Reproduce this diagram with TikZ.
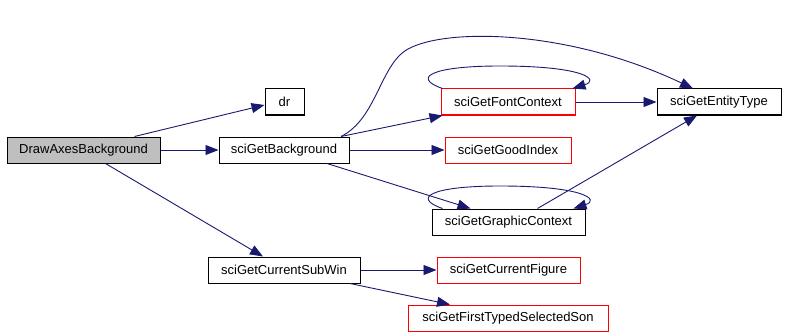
\documentclass[tikz,border=0pt]{standalone}
\usepackage{fontspec}
\setmainfont{Liberation Sans}
\usepackage{xcolor}
\usepackage{tikz}
\usetikzlibrary{shapes, arrows.meta, positioning}

\definecolor{bleunuit}{RGB}{25,25,112}
\definecolor{gris}{RGB}{191,191,191}

\begin{document}
\begin{tikzpicture}[x=1pt, y=-1pt,
    boite/.style={draw=black, line width=1pt, minimum height=26pt, inner sep=0pt,
        font=\fontsize{13}{15}\selectfont},
    rouge/.style={boite, draw=red},
    fleche/.style={draw=bleunuit, line width=0.9pt, -{Triangle[length=13pt,width=10pt]}}]
    \useasboundingbox (0,0) rectangle (786,334);

    % Fonction appelante
    \node[boite, fill=gris, minimum width=153pt] (dab) at (83.5,150) {DrawAxesBackground};

    % Premier niveau
    \node[boite, minimum width=39pt] (dr) at (284.5,102) {dr};
    \node[boite, minimum width=130pt] (bg) at (284,150) {sciGetBackground};
    \node[boite, minimum width=152pt] (subwin) at (284,270) {sciGetCurrentSubWin};

    % Deuxième niveau
    \node[rouge, minimum width=134pt] (font) at (508,102) {sciGetFontContext};
    \node[rouge, minimum width=126pt] (good) at (508,150) {sciGetGoodIndex};
    \node[boite, minimum width=153pt] (graphic) at (508.5,222) {sciGetGraphicContext};
    \node[rouge, minimum width=143pt] (figure) at (508.5,270) {sciGetCurrentFigure};
    \node[rouge, minimum width=200pt] (son) at (508,318) {sciGetFirstTypedSelectedSon};

    % Troisième niveau
    \node[boite, minimum width=124pt] (entity) at (719,102) {sciGetEntityType};

    % Appels depuis DrawAxesBackground
    \draw[fleche] ([xshift=51pt]dab.north) -- ([yshift=-3pt]dr.west);
    \draw[fleche] (dab) -- (bg);
    \draw[fleche] ([xshift=22pt]dab.south) -- ([xshift=-21pt]subwin.north);

    % Appels depuis sciGetBackground
    \draw[fleche] ([xshift=57pt]bg.north) -- ([xshift=2pt]font.south west);
    \draw[fleche] (bg) -- (good);
    \draw[fleche] ([xshift=43pt]bg.south) -- ([xshift=-38pt]graphic.north);
    \draw[fleche] ([xshift=57pt]bg.north) .. controls (378,118) and (380,62) .. (410,48)
        .. controls (450,28) and (570,30) .. ([xshift=-26pt]entity.north);

    % Boucles et sciGetEntityType
    \draw[fleche] ([xshift=2pt]font.north west) .. controls (412,78) and (430,66) .. (500,66)
        .. controls (585,66) and (600,80) .. ([xshift=-3pt]font.north east);
    \draw[fleche] ([xshift=11pt]graphic.north west) .. controls (412,198) and (430,186) .. (500,186)
        .. controls (585,186) and (600,200) .. ([xshift=-12pt]graphic.north east);
    \draw[fleche] (font) -- (entity);
    \draw[fleche] ([xshift=29pt]graphic.north) -- ([xshift=-22pt]entity.south);

    % Appels depuis sciGetCurrentSubWin
    \draw[fleche] (subwin) -- (figure);
    \draw[fleche] ([xshift=66pt]subwin.south) -- ([xshift=-58pt]son.north);
\end{tikzpicture}
\end{document}
